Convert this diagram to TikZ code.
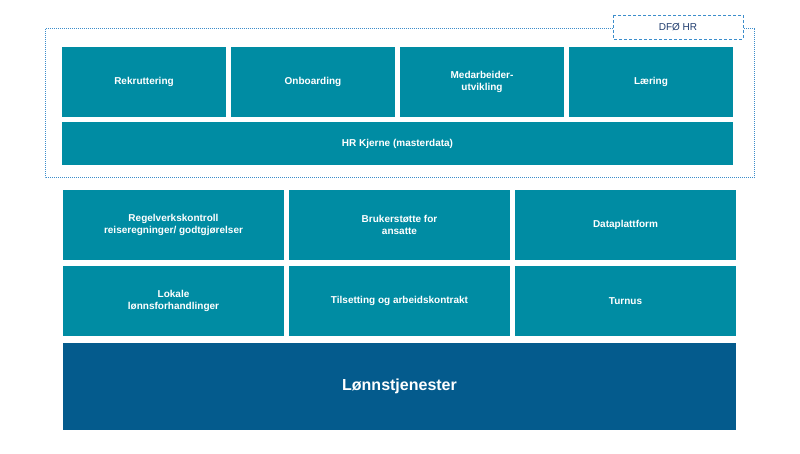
\documentclass[tikz,border=0pt]{standalone}
\usepackage{fontspec}
\setmainfont{Liberation Sans}
\definecolor{teal1}{HTML}{008CA3}
\definecolor{navy1}{HTML}{045B8D}
\definecolor{frame1}{HTML}{3C8DCB}
\definecolor{txt1}{HTML}{1F3C6E}
\begin{document}
\begin{tikzpicture}[x=1pt,y=-1pt,
  tbox/.style={fill=teal1,text=white,font=\bfseries\fontsize{10}{12}\selectfont,align=center,inner sep=0pt}]
\useasboundingbox (0,0) rectangle (800,454);
\def\bx#1#2#3#4#5#6{\fill[teal1] (#2,#3) rectangle (#4,#5); \node[tbox,fill=none] (#1) at ({(#2+#4)/2},{(#3+#5)/2}) {#6};}
\draw[frame1,densely dotted,line width=1pt] (613,29) -- (45,29) -- (45,178) -- (754,178) -- (754,29) -- (743,29);
\draw[frame1,densely dashed,line width=0.8pt,fill=white] (613,15) rectangle (743,39);
\node[text=txt1,font=\fontsize{10}{12}\selectfont] (dfo) at (678,27) {DFØ HR};
\bx{rek}{62}{47}{226}{117}{Rekruttering}
\bx{onb}{231}{47}{395}{117}{Onboarding}
\bx{med}{400}{47}{564}{117}{Medarbeider-\\utvikling}
\bx{lae}{569}{47}{733}{117}{Læring}
\bx{hrk}{62}{122}{733}{165}{HR Kjerne (masterdata)}
\bx{reg}{63}{190}{284}{260}{Regelverkskontroll\\reiseregninger/ godtgjørelser}
\bx{bru}{289}{190}{510}{260}{Brukerstøtte for\\ansatte}
\bx{dat}{515}{190}{736}{260}{Dataplattform}
\bx{lok}{63}{266}{284}{336}{Lokale\\lønnsforhandlinger}
\bx{til}{289}{266}{510}{336}{Tilsetting og arbeidskontrakt}
\bx{tur}{515}{266}{736}{336}{Turnus}
\fill[navy1] (63,343) rectangle (736,430);
\node[text=white,font=\bfseries\fontsize{16}{19}\selectfont] (lon) at (399.5,386.5) {Lønnstjenester};
\end{tikzpicture}
\end{document}
